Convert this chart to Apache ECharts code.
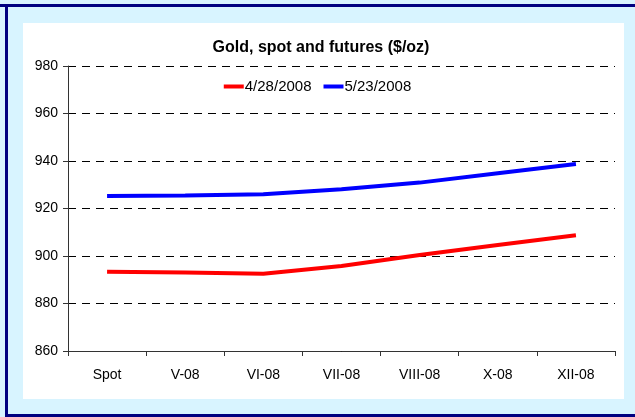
<!DOCTYPE html>
<html>
<head>
<meta charset="utf-8">
<script src="https://cdn.jsdelivr.net/npm/echarts@6/dist/echarts.min.js"></script>
<style>
  html, body { margin: 0; padding: 0; background: #fff; }
  #chart { width: 635px; height: 417px; }
</style>
</head>
<body>
<div id="chart"></div>
<script>
// categories (spot + futures contracts)
const months = ['Spot', 'V-08', 'VI-08', 'VII-08', 'VIII-08', 'X-08', 'XII-08'];
// $/oz
const april28 = [893.4, 893.1, 892.5, 895.8, 900.4, 904.6, 908.7];
const may23 = [925.3, 925.5, 926.0, 928.1, 930.9, 934.8, 938.7];

const FONT = '"Liberation Sans", Arial, sans-serif';

/**
 * draw the gold futures curve
 */
function drawGoldPlot() {
    const chart = echarts.init(document.getElementById('chart'));
    const option = {
        animation: false,
        textStyle: { fontFamily: FONT },
        graphic: [
            // light blue frame
            { type: 'rect', z: -10, shape: { x: 0, y: 0, width: 635, height: 417 }, style: { fill: '#D8F4FF' } },
            // navy borders
            { type: 'rect', z: -9, shape: { x: 0, y: 4, width: 635, height: 3 }, style: { fill: '#000080' } },
            { type: 'rect', z: -9, shape: { x: 5, y: 4, width: 3, height: 413 }, style: { fill: '#000080' } },
            { type: 'rect', z: -9, shape: { x: 5, y: 414, width: 630, height: 3 }, style: { fill: '#000080' } },
            // white chart area
            { type: 'rect', z: -8, shape: { x: 23, y: 23, width: 601, height: 376 }, style: { fill: '#FFFFFF' } },
        ],
        title: {
            text: 'Gold, spot and futures ($/oz)',
            left: 316,
            textAlign: 'center',
            top: 35,
            textStyle: { fontSize: 16, fontWeight: 'bold', color: '#000', fontFamily: FONT },
        },
        legend: {
            top: 74,
            left: 'center',
            icon: 'rect',
            itemWidth: 20,
            itemHeight: 4,
            itemGap: 12,
            textStyle: { fontSize: 15, color: '#000', padding: [0, 0, 0, -4] },
        },
        grid: { left: 68, right: 20, top: 66, bottom: 66 },
        xAxis: {
            type: 'category',
            data: months,
            boundaryGap: true,
            axisLine: { lineStyle: { color: '#333', width: 1 } },
            axisTick: { show: true, length: 5, lineStyle: { color: '#333' } },
            axisLabel: { fontSize: 14, color: '#000', margin: 17 },
        },
        yAxis: {
            type: 'value',
            min: 860,
            max: 980,
            interval: 20,
            axisLine: { show: true, lineStyle: { color: '#333', width: 1 } },
            axisTick: { show: true, length: 5, lineStyle: { color: '#333' } },
            axisLabel: { fontSize: 14, color: '#000', margin: 10 },
            splitLine: { lineStyle: { color: '#000', width: 1, type: [8, 6] } },
        },
        series: [
            {
                name: '4/28/2008',
                type: 'line',
                data: april28,
                showSymbol: false,
                color: '#FF0000',
                lineStyle: { width: 4 },
            },
            {
                name: '5/23/2008',
                type: 'line',
                data: may23,
                showSymbol: false,
                color: '#0000FF',
                lineStyle: { width: 4 },
            },
        ],
    };
    chart.setOption(option);
    return chart;
}

drawGoldPlot();
</script>
</body>
</html>
